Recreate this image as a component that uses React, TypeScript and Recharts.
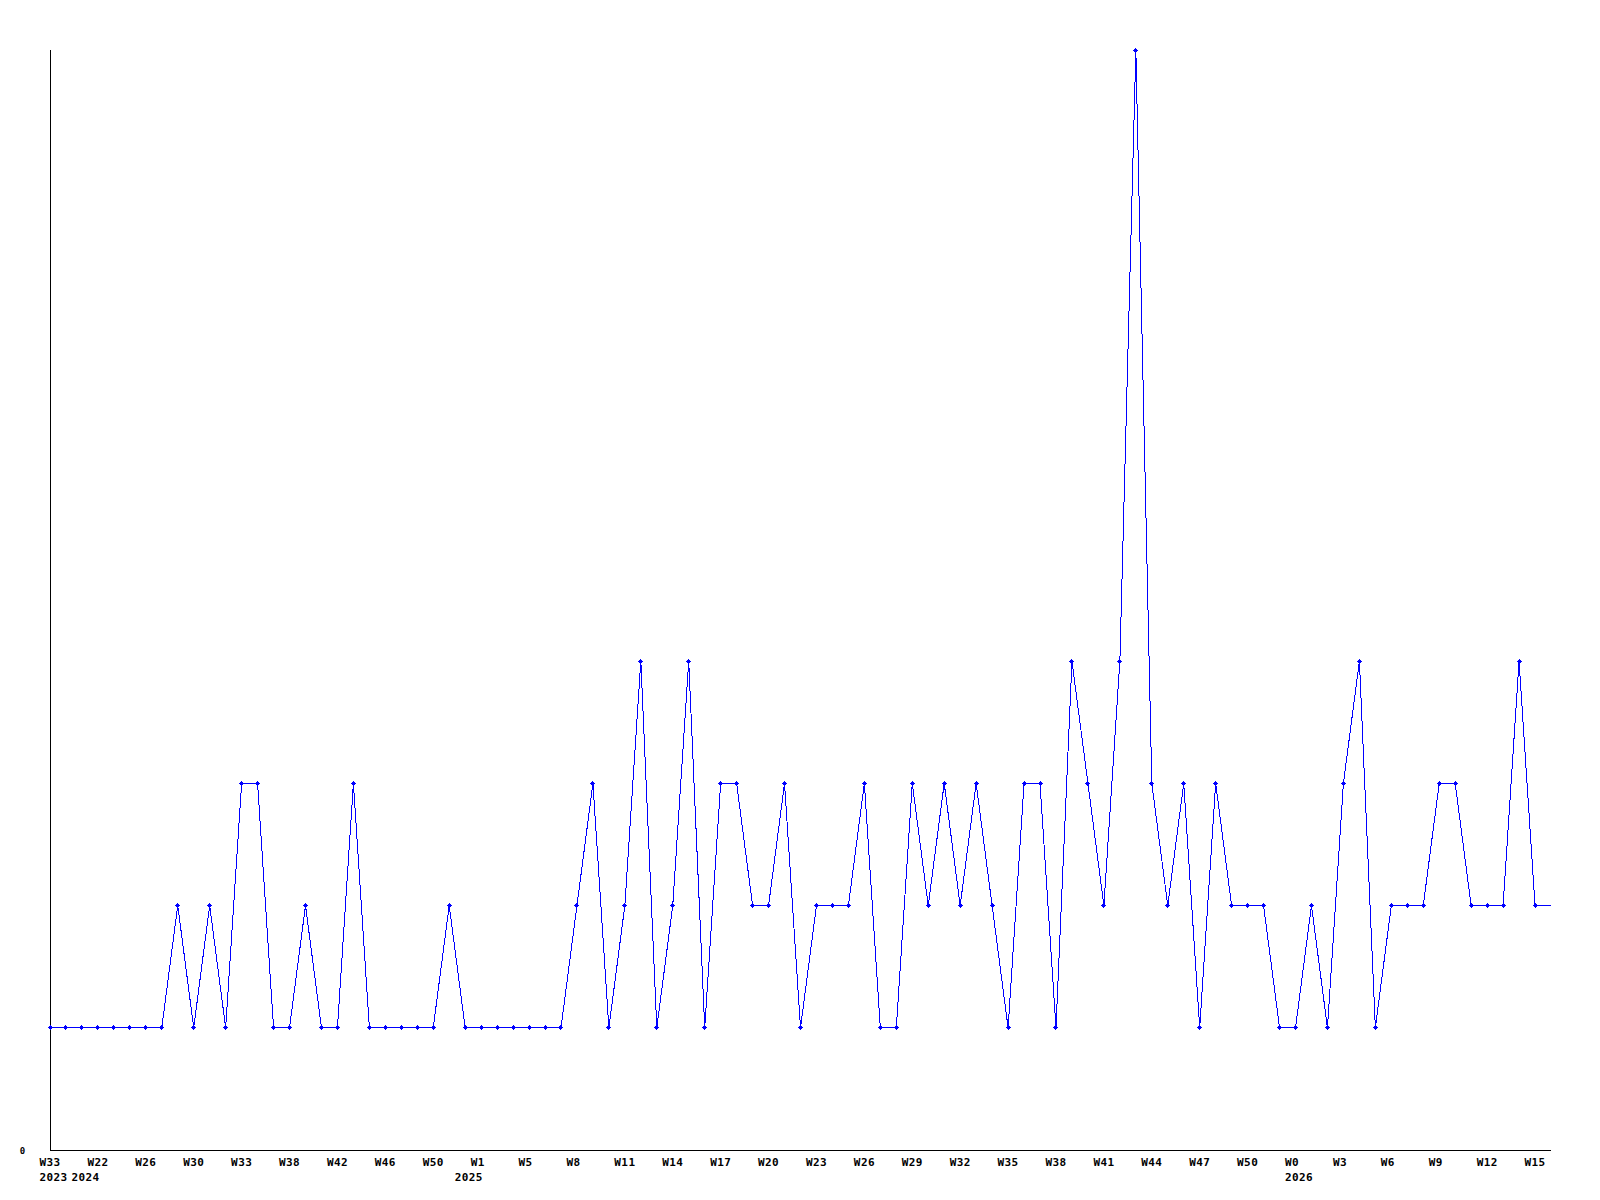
import React from "react";
import { LineChart, Line, XAxis, YAxis } from "recharts";

// Weekly counts (last point is the current, partial week: drawn without a marker)
const values: number[] = [
  1, 1, 1, 1, 1, 1, 1, 1, 2, 1, 2, 1, 3, 3, 1, 1, 2, 1, 1, 3,
  1, 1, 1, 1, 1, 2, 1, 1, 1, 1, 1, 1, 1, 2, 3, 1, 2, 4, 1, 2,
  4, 1, 3, 3, 2, 2, 3, 1, 2, 2, 2, 3, 1, 1, 3, 2, 3, 2, 3, 2,
  1, 3, 3, 1, 4, 3, 2, 4, 9, 3, 2, 3, 1, 3, 2, 2, 2, 1, 1, 2,
  1, 3, 4, 1, 2, 2, 2, 3, 3, 2, 2, 2, 4, 2, 2,
];

// Week tick labels, one every third category
const weekLabels: string[] = [
  "W33", "W22", "W26", "W30", "W33", "W38", "W42", "W46", "W50", "W1",
  "W5", "W8", "W11", "W14", "W17", "W20", "W23", "W26", "W29", "W32",
  "W35", "W38", "W41", "W44", "W47", "W50", "W0", "W3", "W6", "W9",
  "W12", "W15",
];
const weekLabelStep = 3;

// Year labels: the category index where each year's label appears
const yearIndices: number[] = [0, 2, 26, 78];
const yearNames: string[] = ["2023", "2024", "2025", "2026"];

const yTicks: number[] = [0];
const yMax = 9;

const data = values.map((v, i) => ({
  idx: i,
  week: i % weekLabelStep === 0 ? weekLabels[i / weekLabelStep] ?? "" : "",
  year: yearIndices.includes(i) ? yearNames[yearIndices.indexOf(i)] : "",
  value: v,
}));

const FONT = "'DejaVu Sans Mono', monospace";

const XTick = (props: any) => {
  const { x, y, payload } = props;
  const d = data[payload.value];
  if (!d) return <g />;
  return (
    <g>
      {d.week ? (
        <text x={x - 10.5} y={y + 16} textAnchor="start" fontFamily={FONT} fontWeight="bold" fontSize={11} letterSpacing={0.4} fill="#000">
          {d.week}
        </text>
      ) : null}
      {d.year ? (
        <text x={x - 10.5} y={y + 31} textAnchor="start" fontFamily={FONT} fontWeight="bold" fontSize={11} letterSpacing={0.4} fill="#000">
          {d.year}
        </text>
      ) : null}
    </g>
  );
};

const YTick = (props: any) => {
  const { y, payload } = props;
  return (
    <text x={22.5} y={y + 3.5} textAnchor="middle" fontFamily={FONT} fontWeight="bold" fontSize={9} fill="#000">
      {payload.value}
    </text>
  );
};

const Marker = (props: any) => {
  const { cx, cy, index } = props;
  if (index === values.length - 1 || cx == null || cy == null) return <g key={`d${index}`} />;
  const d = `M${cx - 2.5},${cy - 0.5}h5v1h-5z M${cx - 0.5},${cy - 2.5}h1v5h-1z M${cx - 1.5},${cy - 1.5}h3v3h-3z`;
  return <path key={`d${index}`} d={d} fill="#0000ff" stroke="none" shapeRendering="crispEdges" />;
};

export default function App() {
  return (
    <div style={{ position: "absolute", left: 0, top: 0, width: 1600, height: 1200, background: "#fff" }}>
      <LineChart width={1600} height={1200} data={data} margin={{ top: 50, right: 49, bottom: 10, left: 0 }}>
        <XAxis
          dataKey="idx"
          type="category"
          interval={0}
          tickLine={false}
          tickSize={0}
          tickMargin={0}
          height={40}
          axisLine={{ stroke: "#000", strokeWidth: 1, shapeRendering: "crispEdges" }}
          tick={<XTick />}
        />
        <YAxis
          domain={[0, yMax]}
          ticks={yTicks}
          width={50}
          tickLine={false}
          axisLine={{ stroke: "#000", strokeWidth: 1, shapeRendering: "crispEdges" }}
          tick={<YTick />}
        />
        <Line
          type="linear"
          dataKey="value"
          stroke="#0000ff"
          strokeWidth={1}
          shapeRendering="crispEdges"
          dot={<Marker />}
          activeDot={false}
          isAnimationActive={false}
        />
      </LineChart>
    </div>
  );
}
